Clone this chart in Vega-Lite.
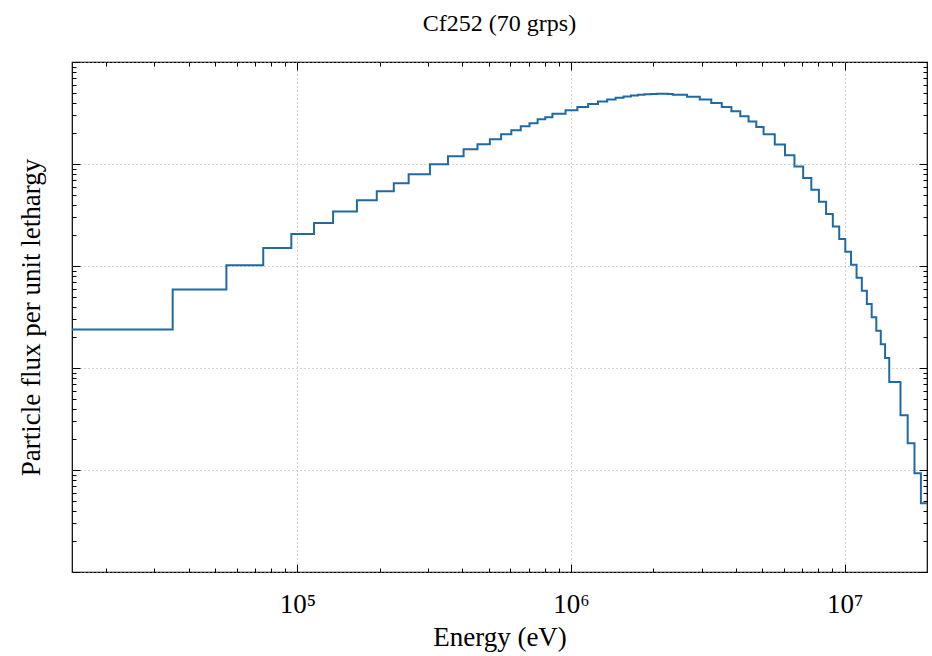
{
  "$schema": "https://vega.github.io/schema/vega-lite/v6.json",
  "width": 855,
  "height": 510,
  "autosize": {"type": "none"},
  "padding": {"left": 72, "top": 62, "right": 5, "bottom": 84},
  "background": "white",
  "title": {"text": "Cf252 (70 grps)", "font": "Liberation Serif", "fontSize": 24, "fontWeight": "normal", "offset": 26, "color": "black"},
  "config": {"view": {"stroke": "black", "strokeWidth": 1.2}, "font": "Liberation Serif"},
  "data": {"values": [
    {"E": 15000, "flux": 0.00238},
    {"E": 35000, "flux": 0.00587},
    {"E": 55000, "flux": 0.01016},
    {"E": 75000, "flux": 0.01501},
    {"E": 95000, "flux": 0.02059},
    {"E": 115000, "flux": 0.0264},
    {"E": 135000, "flux": 0.03415},
    {"E": 165000, "flux": 0.04407},
    {"E": 195000, "flux": 0.054},
    {"E": 225000, "flux": 0.06469},
    {"E": 255000, "flux": 0.07925},
    {"E": 305000, "flux": 0.09933},
    {"E": 355000, "flux": 0.119},
    {"E": 405000, "flux": 0.1394},
    {"E": 455000, "flux": 0.156},
    {"E": 505000, "flux": 0.1747},
    {"E": 555000, "flux": 0.1956},
    {"E": 605000, "flux": 0.214},
    {"E": 655000, "flux": 0.2342},
    {"E": 705000, "flux": 0.2506},
    {"E": 755000, "flux": 0.2743},
    {"E": 805000, "flux": 0.2869},
    {"E": 855000, "flux": 0.3106},
    {"E": 955000, "flux": 0.3361},
    {"E": 1055000, "flux": 0.3621},
    {"E": 1155000, "flux": 0.3867},
    {"E": 1255000, "flux": 0.4091},
    {"E": 1355000, "flux": 0.4299},
    {"E": 1455000, "flux": 0.4467},
    {"E": 1555000, "flux": 0.459},
    {"E": 1655000, "flux": 0.4695},
    {"E": 1755000, "flux": 0.4769},
    {"E": 1855000, "flux": 0.4823},
    {"E": 1955000, "flux": 0.4868},
    {"E": 2055000, "flux": 0.4889},
    {"E": 2155000, "flux": 0.4885},
    {"E": 2255000, "flux": 0.4868},
    {"E": 2355000, "flux": 0.4769},
    {"E": 2655000, "flux": 0.4558},
    {"E": 2955000, "flux": 0.428},
    {"E": 3255000, "flux": 0.3963},
    {"E": 3555000, "flux": 0.3621},
    {"E": 3855000, "flux": 0.3286},
    {"E": 4155000, "flux": 0.2935},
    {"E": 4455000, "flux": 0.2604},
    {"E": 4755000, "flux": 0.2305},
    {"E": 5055000, "flux": 0.1956},
    {"E": 5555000, "flux": 0.1549},
    {"E": 6055000, "flux": 0.1217},
    {"E": 6555000, "flux": 0.09452},
    {"E": 7055000, "flux": 0.07273},
    {"E": 7555000, "flux": 0.05586},
    {"E": 8055000, "flux": 0.04261},
    {"E": 8555000, "flux": 0.03227},
    {"E": 9055000, "flux": 0.02439},
    {"E": 9555000, "flux": 0.01835},
    {"E": 10055000, "flux": 0.01378},
    {"E": 10555000, "flux": 0.01027},
    {"E": 11055000, "flux": 0.007659},
    {"E": 11555000, "flux": 0.005714},
    {"E": 12055000, "flux": 0.004242},
    {"E": 12555000, "flux": 0.003142},
    {"E": 13055000, "flux": 0.002316},
    {"E": 13555000, "flux": 0.001708},
    {"E": 14055000, "flux": 0.001251},
    {"E": 14555000, "flux": 0.0007288},
    {"E": 16000000, "flux": 0.0003439},
    {"E": 17000000, "flux": 0.0001827},
    {"E": 18000000, "flux": 0.00009281},
    {"E": 19000000, "flux": 0.00004716},
    {"E": 20000000, "flux": 0.00004716}
  ]},
  "layer": [
    {
      "mark": {"type": "line", "interpolate": "step-after", "color": "#1f6aa5", "strokeWidth": 2},
      "encoding": {
        "x": {
          "field": "E", "type": "quantitative",
          "scale": {"type": "log", "domain": [15000, 20000000], "nice": false},
          "axis": {
            "orient": "bottom",
            "values": [20000, 30000, 40000, 50000, 60000, 70000, 80000, 90000, 100000, 200000, 300000, 400000, 500000, 600000, 700000, 800000, 900000, 1000000, 2000000, 3000000, 4000000, 5000000, 6000000, 7000000, 8000000, 9000000, 10000000],
            "title": "Energy (eV)",
            "titleFont": "Liberation Serif", "titleFontSize": 27, "titleFontWeight": "normal", "titleColor": "black", "titlePadding": 3,
            "labelExpr": "datum.value == 100000 ? '10⁵' : datum.value == 1000000 ? '10⁶' : datum.value == 10000000 ? '10⁷' : ''",
            "labelFont": "Liberation Serif", "labelFontSize": 27, "labelColor": "black", "labelOverlap": false, "labelFlush": false, "labelPadding": 27,
            "domain": false,
            "ticks": true, "tickColor": "black", "tickWidth": 1,
            "tickSize": {"condition": {"test": "datum.value == 100000 || datum.value == 1000000 || datum.value == 10000000", "value": -8}, "value": -4},
            "grid": true, "gridColor": "#a8a8a8", "gridDash": [1, 3], "gridWidth": 1,
            "gridOpacity": {"condition": {"test": "datum.value == 100000 || datum.value == 1000000 || datum.value == 10000000", "value": 1}, "value": 0}
          }
        },
        "y": {
          "field": "flux", "type": "quantitative",
          "scale": {"type": "log", "domain": [0.00001, 1], "nice": false},
          "axis": {
            "orient": "left",
            "values": [0.00001, 0.00002, 0.00003, 0.00004, 0.00005, 0.00006, 0.00007, 0.00008, 0.00009, 0.0001, 0.0002, 0.0003, 0.0004, 0.0005, 0.0006, 0.0007, 0.0008, 0.0009, 0.001, 0.002, 0.003, 0.004, 0.005, 0.006, 0.007, 0.008, 0.009, 0.01, 0.02, 0.03, 0.04, 0.05, 0.06, 0.07, 0.08, 0.09, 0.1, 0.2, 0.3, 0.4, 0.5, 0.6, 0.7, 0.8, 0.9, 1],
            "title": "Particle flux per unit lethargy",
            "titleFont": "Liberation Serif", "titleFontSize": 27, "titleFontWeight": "normal", "titleColor": "black", "titlePadding": 26,
            "labels": false,
            "domain": false,
            "ticks": true, "tickColor": "black", "tickWidth": 1,
            "tickSize": {"condition": {"test": "datum.value == 0.00001 || datum.value == 0.0001 || datum.value == 0.001 || datum.value == 0.01 || datum.value == 0.1 || datum.value == 1", "value": -8}, "value": -4},
            "grid": true, "gridColor": "#a8a8a8", "gridDash": [1, 3], "gridWidth": 1,
            "gridOpacity": {"condition": {"test": "datum.value == 0.00001 || datum.value == 0.0001 || datum.value == 0.001 || datum.value == 0.01 || datum.value == 0.1 || datum.value == 1", "value": 1}, "value": 0}
          }
        }
      }
    },
    {
      "mark": {"type": "line", "interpolate": "step-after", "strokeOpacity": 0},
      "encoding": {
        "x": {
          "field": "E", "type": "quantitative",
          "scale": {"type": "log", "domain": [15000, 20000000], "nice": false},
          "axis": {
            "orient": "top",
            "values": [20000, 30000, 40000, 50000, 60000, 70000, 80000, 90000, 100000, 200000, 300000, 400000, 500000, 600000, 700000, 800000, 900000, 1000000, 2000000, 3000000, 4000000, 5000000, 6000000, 7000000, 8000000, 9000000, 10000000],
            "title": null, "labels": false, "domain": false, "grid": false,
            "ticks": true, "tickColor": "black", "tickWidth": 1,
            "tickSize": {"condition": {"test": "datum.value == 100000 || datum.value == 1000000 || datum.value == 10000000", "value": -8}, "value": -4}
          }
        },
        "y": {
          "field": "flux", "type": "quantitative",
          "scale": {"type": "log", "domain": [0.00001, 1], "nice": false},
          "axis": {
            "orient": "right",
            "values": [0.00001, 0.00002, 0.00003, 0.00004, 0.00005, 0.00006, 0.00007, 0.00008, 0.00009, 0.0001, 0.0002, 0.0003, 0.0004, 0.0005, 0.0006, 0.0007, 0.0008, 0.0009, 0.001, 0.002, 0.003, 0.004, 0.005, 0.006, 0.007, 0.008, 0.009, 0.01, 0.02, 0.03, 0.04, 0.05, 0.06, 0.07, 0.08, 0.09, 0.1, 0.2, 0.3, 0.4, 0.5, 0.6, 0.7, 0.8, 0.9, 1],
            "title": null, "labels": false, "domain": false, "grid": false,
            "ticks": true, "tickColor": "black", "tickWidth": 1,
            "tickSize": {"condition": {"test": "datum.value == 0.00001 || datum.value == 0.0001 || datum.value == 0.001 || datum.value == 0.01 || datum.value == 0.1 || datum.value == 1", "value": -8}, "value": -4}
          }
        }
      }
    }
  ],
  "resolve": {"axis": {"x": "independent", "y": "independent"}}
}
